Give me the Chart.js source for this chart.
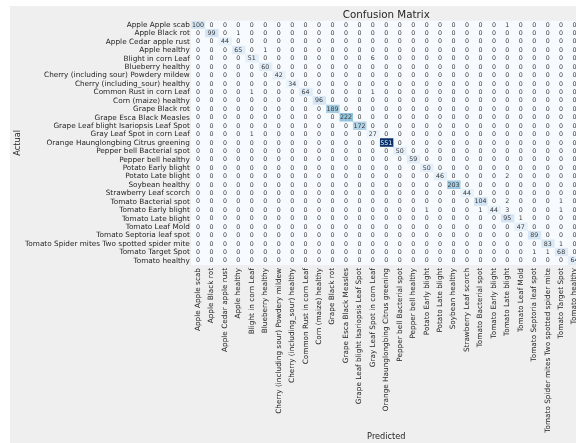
<!DOCTYPE html>
<html>
<head>
<meta charset="utf-8">
<title>Confusion Matrix</title>
<script src="https://cdn.jsdelivr.net/npm/chart.js@4.4.1/dist/chart.umd.min.js"></script>
<style>
  html, body { margin: 0; padding: 0; background: #fff; overflow: hidden; }
  #wrap { position: relative; width: 576px; height: 443px; overflow: hidden; }
  #caption {
    position: absolute; left: 97px; top: -15px; z-index: 2;
    font: bold 13px "DejaVu Sans", sans-serif; line-height: 13px;
    color: #000; white-space: nowrap;
  }
  #chartCm { position: absolute; left: 0; top: 0; }
</style>
</head>
<body>
<div id="wrap">
  <div id="caption">Figure 5.</div>
  <canvas id="chartCm" width="640" height="443"></canvas>
</div>
<script>
// class names, shared by the Actual (rows) and Predicted (columns) axes
const classNames = [
  "Apple Apple scab",
  "Apple Black rot",
  "Apple Cedar apple rust",
  "Apple healthy",
  "Blight in corn Leaf",
  "Blueberry healthy",
  "Cherry (including sour) Powdery mildew",
  "Cherry (including_sour) healthy",
  "Common Rust in corn Leaf",
  "Corn (maize) healthy",
  "Grape Black rot",
  "Grape Esca Black Measles",
  "Grape Leaf blight Isariopsis Leaf Spot",
  "Gray Leaf Spot in corn Leaf",
  "Orange Haunglongbing Citrus greening",
  "Pepper bell Bacterial spot",
  "Pepper bell healthy",
  "Potato Early blight",
  "Potato Late blight",
  "Soybean healthy",
  "Strawberry Leaf scorch",
  "Tomato Bacterial spot",
  "Tomato Early blight",
  "Tomato Late blight",
  "Tomato Leaf Mold",
  "Tomato Septoria leaf spot",
  "Tomato Spider mites Two spotted spider mite",
  "Tomato Target Spot",
  "Tomato healthy",
];

// diagonal: correctly classified samples per class
const correctCounts = [
  100, 99, 44, 65, 51, 60, 42, 34, 64, 96,
  189, 222, 172, 27, 551, 50, 59, 50, 46, 203,
  44, 104, 44, 95, 47, 89, 83, 68, 64,
];

// off-diagonal cells: [actual index, predicted index, count]
const missCounts = [
  [0, 23, 1],
  [1, 3, 1],
  [3, 5, 1],
  [4, 13, 6],
  [8, 4, 1],
  [8, 13, 1],
  [13, 4, 1],
  [18, 23, 2],
  [21, 23, 2],
  [21, 27, 1],
  [22, 17, 1],
  [22, 21, 1],
  [22, 23, 3],
  [22, 27, 1],
  [23, 24, 1],
  [26, 27, 1],
  [27, 25, 1],
  [27, 26, 1],
];

(function () {
  /** matplotlib "Blues" stops */
  const BLUES = [
    [247, 251, 255], [222, 235, 247], [198, 219, 239],
    [158, 202, 225], [107, 174, 214], [66, 146, 198],
    [33, 113, 181], [8, 81, 156], [8, 48, 107],
  ];
  const TEXT_DARK = "#262626";
  const FONT = "DejaVu Sans";

  const matrix = classNames.map((_, r) =>
    classNames.map((__, c) => (r === c ? correctCounts[r] : 0)),
  );
  missCounts.forEach(([r, c, n]) => {
    matrix[r][c] = n;
  });
  const vmax = Math.max(...matrix.flat());

  function bluesRgb(v) {
    const t = Math.min(Math.max(v / vmax, 0), 1) * (BLUES.length - 1);
    const i = Math.min(Math.floor(t), BLUES.length - 2);
    const f = t - i;
    return BLUES[i].map((a, k) => Math.round(a + (BLUES[i + 1][k] - a) * f));
  }

  function cellColor(v) {
    const [r, g, b] = bluesRgb(v);
    return `rgb(${r}, ${g}, ${b})`;
  }

  /** dark text on light cells, white on dark ones (seaborn's rule) */
  function textColorFor(v) {
    const lin = bluesRgb(v).map((x) => {
      const s = x / 255;
      return s <= 0.03928 ? s / 12.92 : Math.pow((s + 0.055) / 1.055, 2.4);
    });
    const lum = 0.2126 * lin[0] + 0.7152 * lin[1] + 0.0722 * lin[2];
    return lum > 0.408 ? "#3a3a3a" : "#ffffff";
  }

  // light figure panel + white heatmap base so bar seams don't show
  const figureBackground = {
    id: "figureBackground",
    beforeDraw(chart) {
      const { ctx, chartArea } = chart;
      ctx.save();
      ctx.fillStyle = "#efefef";
      ctx.fillRect(10, 6, chart.width, chart.height);
      ctx.fillStyle = cellColor(0);
      ctx.fillRect(chartArea.left, chartArea.top, chartArea.width, chartArea.height);
      ctx.restore();
    },
  };

  // count written in the middle of every cell
  const cellValues = {
    id: "cellValues",
    afterDatasetsDraw(chart) {
      const ctx = chart.ctx;
      ctx.save();
      ctx.font = `6.3px "${FONT}"`;
      ctx.textAlign = "center";
      ctx.textBaseline = "middle";
      chart.data.datasets.forEach((ds, c) => {
        chart.getDatasetMeta(c).data.forEach((bar, r) => {
          const { x, y, base } = bar.getProps(["x", "y", "base"], true);
          const v = matrix[r][c];
          ctx.fillStyle = textColorFor(v);
          ctx.fillText(String(v), (x + base) / 2, y);
        });
      });
      ctx.restore();
    },
  };

  // one dataset per predicted column; each row gets a floating bar [c, c + 1]
  const datasets = classNames.map((name, c) => ({
    label: name,
    data: classNames.map(() => [c, c + 1]),
    backgroundColor: (ctx) => cellColor(matrix[ctx.dataIndex][c]),
    borderWidth: 0,
    barPercentage: 1,
    categoryPercentage: 1,
    grouped: false,
  }));

  const tickFont = { family: FONT, size: 7.3 };
  const axisTitleFont = { family: FONT, size: 8.2 };

  new Chart(document.getElementById("chartCm"), {
    type: "bar",
    data: { labels: classNames, datasets },
    options: {
      indexAxis: "y",
      responsive: false,
      animation: false,
      devicePixelRatio: 1,
      layout: { padding: { left: 10, top: 0, right: 58.7, bottom: 0 } },
      plugins: {
        legend: { display: false },
        tooltip: { enabled: false },
        title: {
          display: true,
          text: "Confusion Matrix",
          fullSize: false,
          color: TEXT_DARK,
          font: { family: FONT, size: 10.3, weight: "normal", lineHeight: 1 },
          padding: { top: 10.35, bottom: 0.15 },
        },
      },
      scales: {
        x: {
          type: "linear",
          position: "bottom",
          min: 0,
          max: classNames.length,
          grid: { display: false, drawTicks: false },
          border: { display: false },
          afterBuildTicks: (scale) => {
            scale.ticks = classNames.map((_, i) => ({ value: i + 0.5 }));
          },
          afterFit: (scale) => {
            scale.height = 178;
          },
          ticks: {
            autoSkip: false,
            minRotation: 90,
            maxRotation: 90,
            padding: 3,
            color: TEXT_DARK,
            font: tickFont,
            callback: (v) => classNames[Math.floor(v)],
          },
          title: {
            display: true,
            text: "Predicted",
            color: TEXT_DARK,
            font: axisTitleFont,
            padding: { top: 0, bottom: 1.4 },
          },
        },
        y: {
          type: "category",
          offset: true,
          grid: { display: false, drawTicks: false },
          border: { display: false },
          afterFit: (scale) => {
            scale.width = 181.3;
          },
          ticks: {
            autoSkip: false,
            padding: 1.5,
            color: TEXT_DARK,
            font: tickFont,
          },
          title: {
            display: true,
            text: "Actual",
            color: TEXT_DARK,
            font: axisTitleFont,
            padding: { top: 3.4, bottom: 0 },
          },
        },
      },
    },
    plugins: [figureBackground, cellValues],
  });
})();
</script>
</body>
</html>
